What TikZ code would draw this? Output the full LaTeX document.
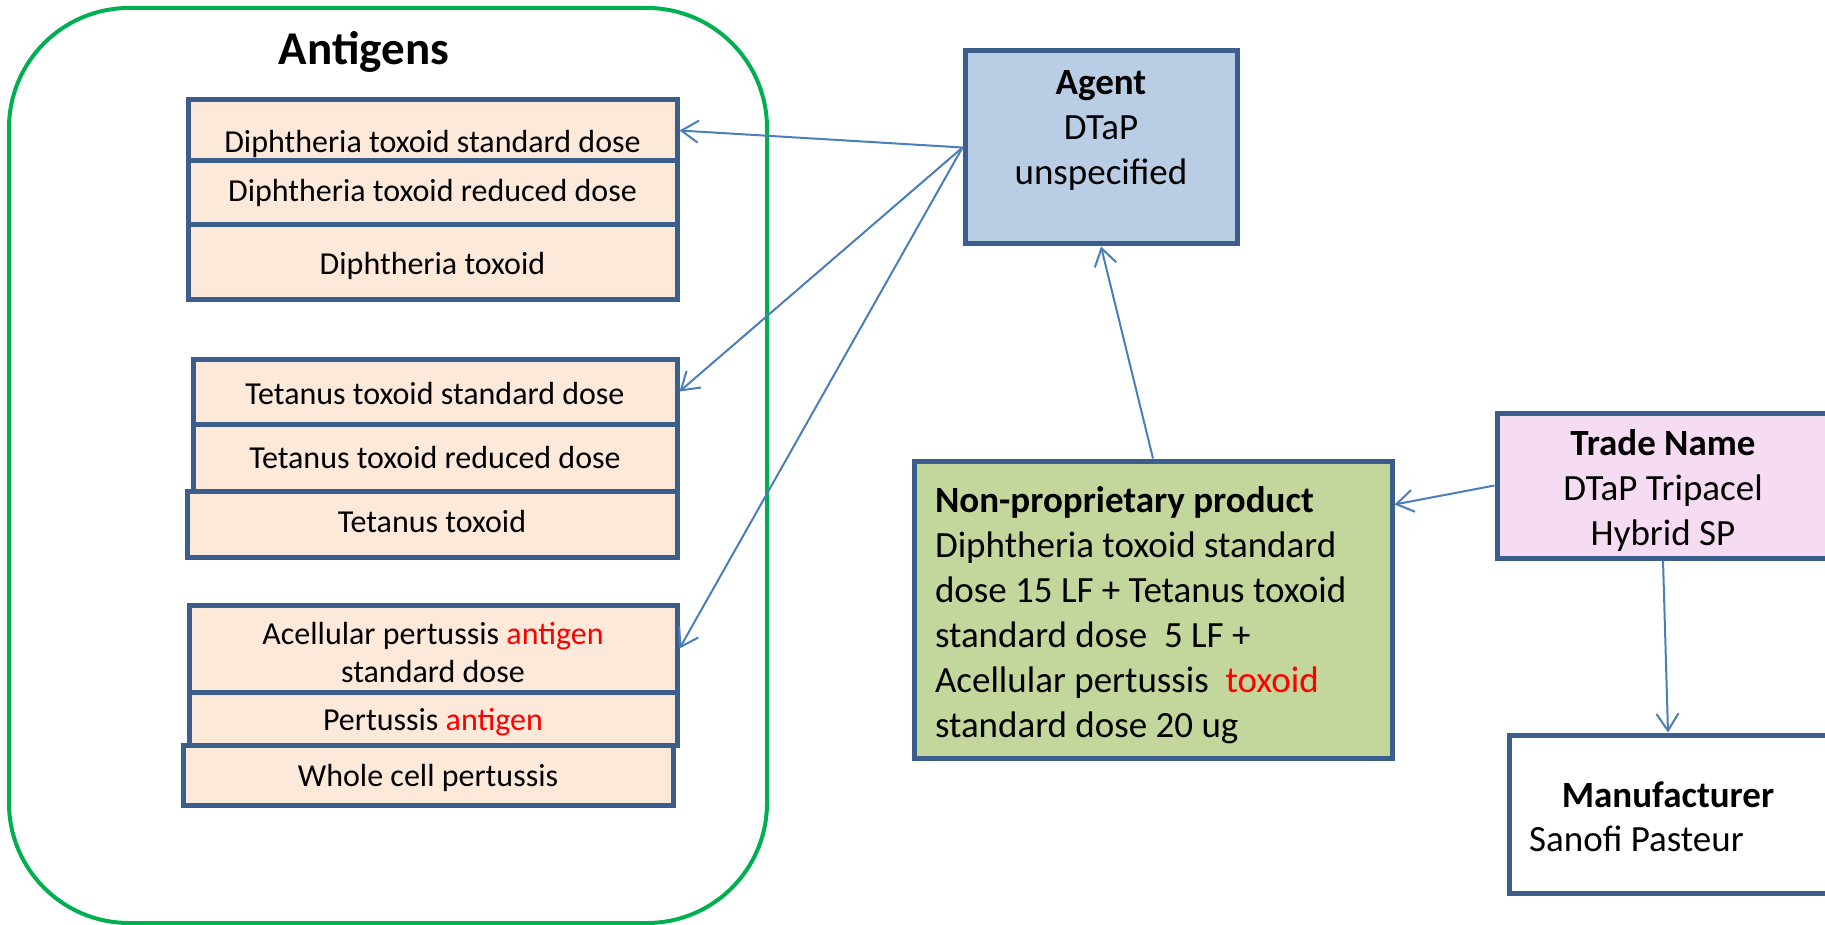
\documentclass[tikz,border=0pt]{standalone}
\usepackage{fontspec}
\setmainfont{Carlito}
\usepackage{xcolor}
\usetikzlibrary{arrows.meta}

\definecolor{boxline}{HTML}{3B5E8C}
\definecolor{peach}{HTML}{FCE9DA}
\definecolor{agentblue}{HTML}{B9CDE5}
\definecolor{prodgreen}{HTML}{C3D69B}
\definecolor{tradepink}{HTML}{F6DCF2}
\definecolor{groupgreen}{HTML}{00B050}
\definecolor{linkblue}{HTML}{4A7EBB}

\begin{document}
\begin{tikzpicture}[x=1pt,y=-1pt,
%    every node/.style={draw},
    box/.style={draw=boxline,line width=5pt,inner sep=0pt},
    antigen/.style={box,fill=peach,font=\fontsize{32}{38}\selectfont,align=center},
    lift/.style={text height=#1,text depth=7pt},
    big/.style={font=\fontsize{37}{45}\selectfont},
    link/.style={-{Straight Barb[length=17pt,width=22pt]},linkblue,line width=2pt}]

    \clip (0,0) rectangle (1825,925);

    % antigen group
    \node[draw=groupgreen,line width=4pt,rounded corners=120pt,
          minimum width=758,minimum height=915] (group) at (388,465.5) {};
    \node[font=\fontsize{47}{56}\selectfont\bfseries] (title) at (364,52) {Antigens};

    \begin{scope}[every node/.append style={antigen,minimum width=489}]
      \node[minimum height=61,lift=52pt] (Dstd) at (432.5,130.5) {Diphtheria toxoid standard dose};
      \node[minimum height=64,lift=24pt] (Dred) at (432.5,193) {Diphtheria toxoid reduced dose};
      \node[minimum height=74,lift=32pt] (Dtox) at (432.5,262) {Diphtheria toxoid};
    \end{scope}

    \begin{scope}[every node/.append style={antigen,minimum width=484}]
      \node[minimum height=65,lift=32pt] (Tstd) at (435,391.5) {Tetanus toxoid standard dose};
      \node[minimum height=67,lift=29pt] (Tred) at (435,457.5) {Tetanus toxoid reduced dose};
      \node[minimum height=66,minimum width=490,lift=24pt] (Ttox) at (432,524) {Tetanus toxoid};
    \end{scope}

    \begin{scope}[every node/.append style={antigen,minimum width=488}]
      \node[minimum height=87,text height=69pt] (Pstd) at (433,648.5) {Acellular pertussis \textcolor{red}{antigen}\\standard dose};
      \node[minimum height=53,lift=30pt] (Pant) at (433,718.5) {Pertussis \textcolor{red}{antigen}};
      \node[minimum height=60,minimum width=490,lift=30pt] (Pwc) at (428,775) {Whole cell pertussis};
    \end{scope}

    % right hand side
    \node[box,fill=agentblue,minimum width=272,minimum height=193] (agent) at (1101,147.5) {};
    \node[big,align=center] (agenttxt) at (1101,130.5) {\textbf{Agent}\\DTaP\\unspecified};

    \node[box,fill=prodgreen,minimum width=478,minimum height=297] (NP) at (1153,609.5) {};
    \node[big,text width=436pt,inner sep=0pt,align=flush left] (NPtxt) at (1153,615)
      {\textbf{Non-proprietary product}\\
       Diphtheria toxoid standard\\
       dose 15 LF + Tetanus toxoid\\
       standard dose\ \ 5 LF +\\
       Acellular pertussis\ \ \textcolor{red}{toxoid}\\
       standard dose 20 ug};

    \node[box,fill=tradepink,minimum width=332,minimum height=145] (TN) at (1663,485.5) {};
    \node[big,align=center] (TNtxt) at (1663,490) {\textbf{Trade Name}\\DTaP Tripacel\\Hybrid SP};

    \node[box,fill=white,minimum width=318,minimum height=158] (MF) at (1668,814) {};
    \node[font=\fontsize{37}{45}\selectfont\bfseries] (MFhead) at (1668,795) {Manufacturer};
    \node[big,anchor=west,inner sep=0pt] (MFname) at (1529,839) {Sanofi Pasteur};

    % links
    \draw[link] (agent.west) -- (Dstd.east);
    \draw[link] (agent.west) -- (Tstd.east);
    \draw[link] (agent.west) -- (Pstd.east);
    \draw[link] (NP.north) -- (agent.south);
    \draw[link] (TN.west) -- ([yshift=-46pt]NP.north east);
    \draw[link] (TN.south) -- (MF.north);
\end{tikzpicture}
\end{document}
